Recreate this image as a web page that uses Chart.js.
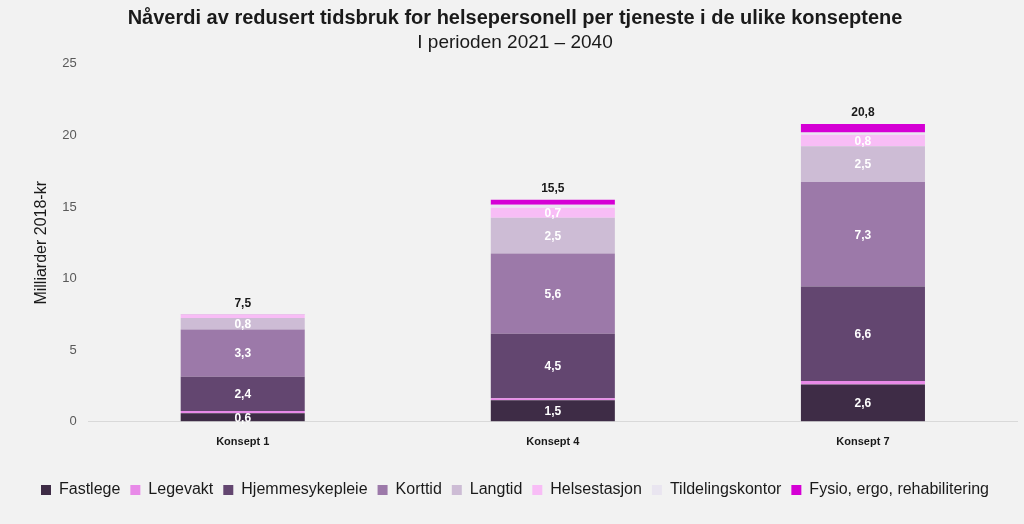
<!DOCTYPE html>
<html lang="no">
<head>
<meta charset="UTF-8">
<title>Nåverdi av redusert tidsbruk</title>
<script src="https://cdn.jsdelivr.net/npm/chart.js"></script>
<style>
    body { margin: 0; background: #f2f2f2; font-family: "Liberation Sans", Arial, sans-serif; }
    #wrap { width: 1024px; height: 524px; position: relative; }
</style>
</head>
<body>
<div id="wrap"><canvas id="graf"></canvas></div>
<script>
// kategorier og verdier (milliarder 2018-kr)
const konsepter = ['Konsept 1', 'Konsept 4', 'Konsept 7'];
const tjenester = ['Fastlege', 'Legevakt', 'Hjemmesykepleie', 'Korttid', 'Langtid', 'Helsestasjon', 'Tildelingskontor', 'Fysio, ergo, rehabilitering'];
const fastlege = [0.6, 1.5, 2.6];
const legevakt = [0.15, 0.15, 0.25];
const hjemmesykepleie = [2.4, 4.5, 6.6];
const korttid = [3.3, 5.6, 7.3];
const langtid = [0.8, 2.5, 2.5];
const helsestasjon = [0.2, 0.7, 0.8];
const tildelingskontor = [0.02, 0.2, 0.15];
const fysio = [0.03, 0.35, 0.6];
const totaler = [7.5, 15.5, 20.8];
const yTicks = [0, 5, 10, 15, 20, 25];

const serier = [fastlege, legevakt, hjemmesykepleie, korttid, langtid, helsestasjon, tildelingskontor, fysio];
const farger = ['#3e2c46', '#e88ae8', '#634670', '#9c79a9', '#cdbcd5', '#f8bdf6', '#e9e5f0', '#d500d5'];
const visEtikett = [true, false, true, true, true, true, false, false];
const FONT = '"Liberation Sans", Arial, sans-serif';

const fmt = v => v.toFixed(1).replace('.', ',');

const etiketter = {
    id: 'etiketter',
    afterDatasetsDraw(chart) {
        const ctx = chart.ctx;
        ctx.save();
        ctx.textAlign = 'center';
        ctx.textBaseline = 'middle';
        ctx.font = 'bold 12px ' + FONT;
        chart.data.datasets.forEach((ds, i) => {
            if (!visEtikett[i]) return;
            chart.getDatasetMeta(i).data.forEach((bar, j) => {
                if (ds.data[j] < 0.5) return;
                ctx.fillStyle = '#ffffff';
                ctx.fillText(fmt(ds.data[j]), bar.x, (bar.y + bar.base) / 2 + 1);
            });
        });
        const ys = chart.scales.y;
        ctx.fillStyle = '#1a1a1a';
        chart.getDatasetMeta(0).data.forEach((bar, j) => {
            ctx.fillText(fmt(totaler[j]), bar.x, ys.getPixelForValue(totaler[j]) - 11);
        });
        ctx.restore();
    }
};

new Chart(document.getElementById('graf'), {
    type: 'bar',
    data: {
        labels: konsepter,
        datasets: tjenester.map((navn, i) => ({
            label: navn,
            data: serier[i],
            backgroundColor: farger[i],
            borderWidth: 0,
            barPercentage: 0.4,
            categoryPercentage: 1.0
        }))
    },
    options: {
        responsive: true,
        maintainAspectRatio: false,
        animation: false,
        layout: { padding: { left: 12, right: 6, top: 4, bottom: 16 } },
        plugins: {
            title: {
                display: true,
                text: 'Nåverdi av redusert tidsbruk for helsepersonell per tjeneste i de ulike konseptene',
                color: '#1a1a1a',
                font: { size: 20, weight: 'bold', family: FONT },
                padding: { top: 2, bottom: 0 }
            },
            subtitle: {
                display: true,
                text: 'I perioden 2021 – 2040',
                color: '#1a1a1a',
                font: { size: 19, family: FONT },
                padding: { top: 1, bottom: 10 }
            },
            legend: {
                position: 'bottom',
                labels: {
                    boxWidth: 10,
                    boxHeight: 10,
                    padding: 10,
                    color: '#1a1a1a',
                    font: { size: 16, family: FONT }
                }
            },
            tooltip: { enabled: false }
        },
        scales: {
            x: {
                stacked: true,
                grid: { display: false },
                border: { display: false },
                afterFit: s => { s.height += 17; },
                ticks: {
                    padding: 6,
                    color: '#1a1a1a',
                    font: { size: 11, weight: 'bold', family: FONT }
                }
            },
            y: {
                stacked: true,
                min: yTicks[0],
                max: yTicks[yTicks.length - 1],
                afterBuildTicks: axis => { axis.ticks = yTicks.map(v => ({ value: v })); },
                border: { display: false },
                grid: {
                    color: ctx => ctx.tick && ctx.tick.value === 0 ? '#d9d9d9' : 'rgba(0,0,0,0)',
                    drawTicks: false
                },
                ticks: {
                    padding: 11,
                    color: '#595959',
                    font: { size: 13, family: FONT }
                },
                title: {
                    display: true,
                    text: 'Milliarder 2018-kr',
                    color: '#1a1a1a',
                    font: { size: 16, family: FONT },
                    padding: { top: 20, bottom: 0 }
                }
            }
        }
    },
    plugins: [etiketter]
});
</script>
</body>
</html>
